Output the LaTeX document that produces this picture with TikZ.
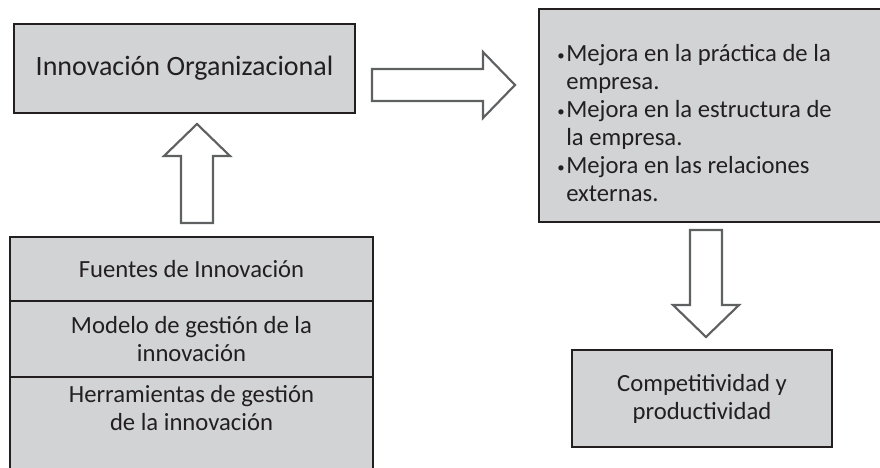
\documentclass[tikz,border=0pt]{standalone}
\usepackage{fontspec}
\setmainfont{Carlito}
\usepackage{graphicx}
\usepackage{tikz}
\usetikzlibrary{positioning}
\usetikzlibrary{calc}

\definecolor{cajagris}{HTML}{D1D3D4}
\definecolor{bordecaja}{HTML}{231F20}
\definecolor{bordeflecha}{HTML}{5F6062}

\newcommand{\vineta}{\makebox[6.75pt][l]{\raisebox{1pt}{\scalebox{0.6}{\textbullet}}}}

\begin{document}
\begin{tikzpicture}[x=0.75pt, y=-0.75pt, % 1 unit = 1px, y goes down
    caja/.style={draw=bordecaja, fill=cajagris, line width=1.5pt, outer sep=0pt,
      text=bordecaja, align=center, font=\fontsize{18.5}{21}\selectfont},
    texto/.style={text=bordecaja, inner sep=0pt, font=\fontsize{18.5}{21}\selectfont},
    hueca/.style={draw=bordeflecha, fill=white, line width=1.6pt, miter limit=20}]
    \useasboundingbox (0,0) rectangle (880,467);
    \fill [white] (0,0) rectangle (880,467);
    \node [caja, minimum width=255.75pt, minimum height=66.75pt, font=\fontsize{21}{25}\selectfont]
      (io) at (184.5,68.5) {Innovación Organizacional};
    \node [caja, minimum width=263.25pt, minimum height=159.75pt] (mej) at (714.5,115.5) {};
    \node [texto, anchor=north west, align=left] (mejtxt) at (557,44) {%
      \vineta Mejora en la práctica de la\\
      \hphantom{\vineta}empresa.\\
      \vineta Mejora en la estructura de\\
      \hphantom{\vineta}la empresa.\\
      \vineta Mejora en las relaciones\\
      \hphantom{\vineta}externas.};
    % stacked cells at the bottom left
    \node [caja, minimum width=272.25pt, minimum height=48pt] (fu) at (191.5,269) {Fuentes de Innovación};
    \node [caja, minimum width=272.25pt, minimum height=57pt, below=0pt of fu] (mo) {Modelo de gestión de la\\ innovación};
    \node [caja, minimum width=272.25pt, minimum height=77.25pt, below=0pt of mo] (he) {};
    \node [texto, align=center, below=6pt of he.north] (hetxt) {Herramientas de gestión\\ de la innovación};
    \node [caja, minimum width=195pt, minimum height=72.75pt] (comp) at (702,398.5) {Competitividad y\\ productividad};
    % hollow arrows
    \coordinate (a1) at ($(io.east)+(17,16.5)$);
    \coordinate (a2) at ($(fu.north)+(5.5,-14)$);
    \coordinate (a3) at ($(mej.south)+(-8.5,8)$);
    \foreach \s/\r/\l in {a1/0/143, a2/90/99, a3/-90/107}
      \draw [hueca, shift={(\s)}, rotate=\r] (0,-16) -- (\l-32,-16) -- (\l-32,-33) -- (\l,0)
        -- (\l-32,33) -- (\l-32,16) -- (0,16) -- cycle;
\end{tikzpicture}
\end{document}
